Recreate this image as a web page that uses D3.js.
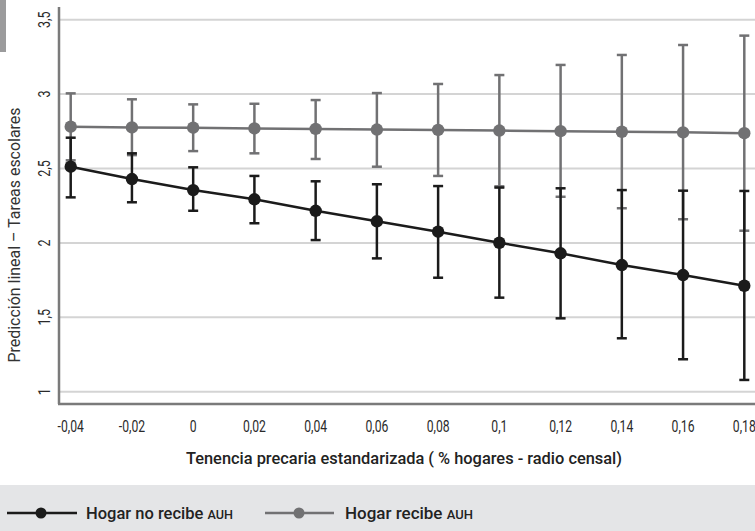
<!DOCTYPE html>
<html>
<head>
<meta charset="utf-8">
<script src="https://cdn.jsdelivr.net/npm/d3@7"></script>
<style>
  html, body { margin: 0; padding: 0; background: #fff; }
  svg { display: block; }
  text { font-family: 'Roboto', 'DejaVu Sans Condensed', sans-serif; }
</style>
</head>
<body>
<svg id="chart" width="755" height="531"></svg>
<script>
// ---- data ----
const xValues = [-0.04, -0.02, 0, 0.02, 0.04, 0.06, 0.08, 0.1, 0.12, 0.14, 0.16, 0.18];
const xTickLabels = ["-0,04", "-0,02", "0", "0,02", "0,04", "0,06", "0,08", "0,1", "0,12", "0,14", "0,16", "0,18"];
const yTicks = [1, 1.5, 2, 2.5, 3, 3.5];
const yTickLabels = ["1", "1,5", "2", "2,5", "3", "3,5"];

// Hogar no recibe AUH
const noAuhMean  = [2.512, 2.429, 2.355, 2.293, 2.216, 2.145, 2.075, 2.001, 1.930, 1.851, 1.784, 1.712];
const noAuhUpper = [2.707, 2.602, 2.508, 2.450, 2.414, 2.394, 2.382, 2.372, 2.367, 2.355, 2.351, 2.349];
const noAuhLower = [2.306, 2.273, 2.216, 2.132, 2.019, 1.896, 1.766, 1.632, 1.493, 1.359, 1.218, 1.079];

// Hogar recibe AUH
const auhMean  = [2.781, 2.776, 2.774, 2.769, 2.766, 2.762, 2.759, 2.755, 2.751, 2.747, 2.743, 2.737];
const auhUpper = [3.005, 2.965, 2.931, 2.935, 2.960, 3.007, 3.068, 3.128, 3.196, 3.263, 3.330, 3.393];
const auhLower = [2.555, 2.590, 2.617, 2.602, 2.564, 2.512, 2.450, 2.380, 2.310, 2.233, 2.159, 2.082];

const seriesNames = ["Hogar no recibe", "Hogar recibe"];
const yTitle = "Predicción lineal – Tareas escolares";
const xTitle = "Tenencia precaria estandarizada ( % hogares - radio censal)";

// ---- chart ----
const svg = d3.select("#chart");
const x = d3.scaleLinear().domain([-0.04, 0.18]).range([70.7, 744.3]);
const y = d3.scaleLinear().domain([1, 3.5]).range([391.7, 19.7]);

const black = "#1b1b1b", gray = "#717173";

// top-left grey tab
svg.append("rect").attr("x", 0).attr("y", 0).attr("width", 6).attr("height", 52).attr("fill", "#9b9b9c");

// gridlines
svg.append("g").selectAll("line").data(yTicks).join("line")
  .attr("x1", 60).attr("x2", 755)
  .attr("y1", d => y(d)).attr("y2", d => y(d))
  .attr("stroke", "#d4d4d4").attr("stroke-width", 2);

// y tick labels (rotated)
svg.append("g").selectAll("text").data(yTicks).join("text")
  .attr("transform", d => `translate(50,${y(d)}) rotate(-90) scale(0.78,1)`)
  .attr("text-anchor", "middle")
  .attr("font-size", 16)
  .attr("fill", "#2a2a2a")
  .text((d, i) => yTickLabels[i]);

// axes lines
svg.append("line").attr("x1", 59).attr("x2", 59).attr("y1", 7).attr("y2", 404)
  .attr("stroke", "#7a7a7a").attr("stroke-width", 2.5);
svg.append("line").attr("x1", 58).attr("x2", 755).attr("y1", 404).attr("y2", 404)
  .attr("stroke", "#7a7a7a").attr("stroke-width", 2.5);

// x tick labels
svg.append("g").selectAll("text").data(xValues).join("text")
  .attr("transform", d => `translate(${x(d)},432) scale(0.76,1)`)
  .attr("text-anchor", "middle")
  .attr("font-size", 16)
  .attr("fill", "#2a2a2a")
  .text((d, i) => xTickLabels[i]);

// axis titles
svg.append("text")
  .attr("transform", "translate(20,235) rotate(-90)")
  .attr("text-anchor", "middle")
  .attr("font-size", 16)
  .attr("fill", "#333")
  .attr("textLength", 255).attr("lengthAdjust", "spacingAndGlyphs")
  .text(yTitle);

svg.append("text")
  .attr("x", 404).attr("y", 464)
  .attr("text-anchor", "middle")
  .attr("font-size", 17)
  .attr("font-weight", 500)
  .attr("fill", "#222")
  .attr("textLength", 436).attr("lengthAdjust", "spacingAndGlyphs")
  .text(xTitle);

// series drawing
function drawSeries(mean, upper, lower, color) {
  const g = svg.append("g");
  const data = xValues.map((v, i) => ({x: v, m: mean[i], u: upper[i], l: lower[i]}));
  g.selectAll("line.err").data(data).join("line").attr("class", "err")
    .attr("x1", d => x(d.x)).attr("x2", d => x(d.x))
    .attr("y1", d => y(d.u)).attr("y2", d => y(d.l))
    .attr("stroke", color).attr("stroke-width", 2.5);
  ["u", "l"].forEach(k => {
    g.selectAll("line.cap" + k).data(data).join("line").attr("class", "cap" + k)
      .attr("x1", d => x(d.x) - 5).attr("x2", d => x(d.x) + 5)
      .attr("y1", d => y(d[k])).attr("y2", d => y(d[k]))
      .attr("stroke", color).attr("stroke-width", 2.5);
  });
  g.append("path").datum(data)
    .attr("d", d3.line().x(d => x(d.x)).y(d => y(d.m)))
    .attr("fill", "none").attr("stroke", color).attr("stroke-width", 2.5);
  g.selectAll("circle").data(data).join("circle")
    .attr("cx", d => x(d.x)).attr("cy", d => y(d.m)).attr("r", 6.2)
    .attr("fill", color);
}
drawSeries(auhMean, auhUpper, auhLower, gray);
drawSeries(noAuhMean, noAuhUpper, noAuhLower, black);

// legend
svg.append("rect").attr("x", 0).attr("y", 485).attr("width", 755).attr("height", 46).attr("fill", "#e4e5e7");
const legend = [
  {name: seriesNames[0], color: black, x1: 7, x2: 77, cx: 41, tx: 86, len: 147},
  {name: seriesNames[1], color: gray, x1: 265, x2: 334, cx: 299, tx: 345, len: 128}
];
const lg = svg.append("g").selectAll("g").data(legend).join("g");
lg.append("line").attr("x1", d => d.x1).attr("x2", d => d.x2).attr("y1", 513).attr("y2", 513)
  .attr("stroke", d => d.color).attr("stroke-width", 2.5);
lg.append("circle").attr("cx", d => d.cx).attr("cy", 513).attr("r", 5.5).attr("fill", d => d.color);
const lt = lg.append("text").attr("x", 0).attr("y", 0)
  .attr("font-size", 17).attr("font-weight", 500).attr("fill", "#222");
lt.append("tspan").text(d => d.name + " ");
lt.append("tspan").attr("font-size", 13).text("AUH");
lt.attr("transform", function(d) {
  const w = this.getComputedTextLength();
  return `translate(${d.tx},519) scale(${d.len / w},1)`;
});
</script>
</body>
</html>
